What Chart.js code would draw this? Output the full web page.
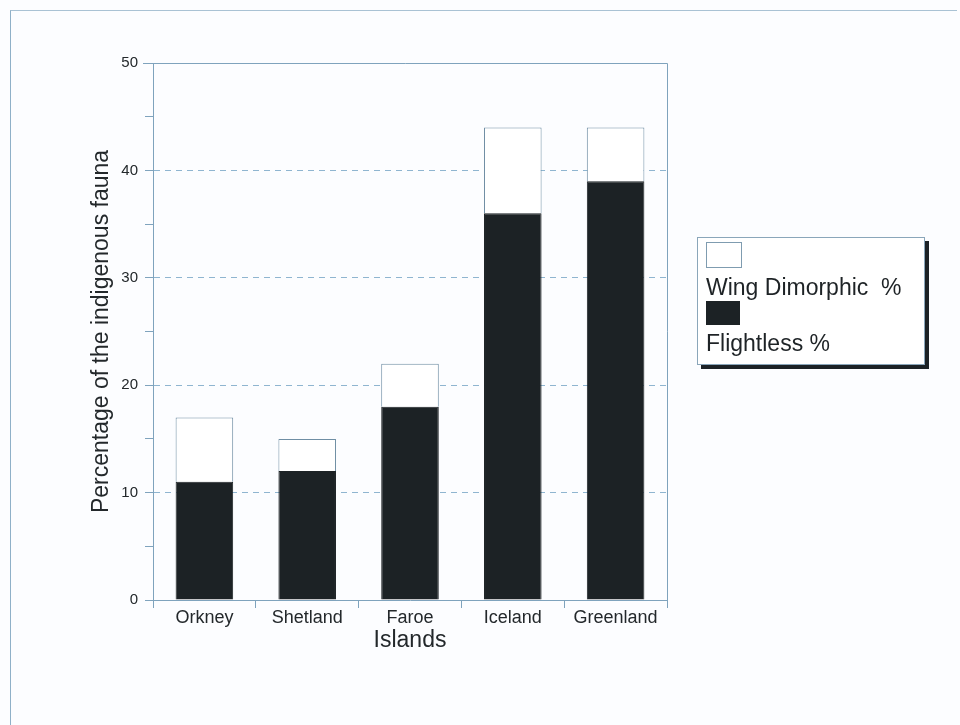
<!DOCTYPE html>
<html>
<head>
<meta charset="utf-8">
<script src="https://cdn.jsdelivr.net/npm/chart.js@4/dist/chart.umd.min.js"></script>
<style>
  body { margin: 0; background: #fcfdff; font-family: "Liberation Sans", Arial, sans-serif; }
  #wrap { position: relative; width: 960px; height: 725px; }
  #frame { position: absolute; left: 10px; top: 10px; width: 946px; height: 720px;
           border-left: 1px solid #8fb0c8; border-top: 1px solid #a9c2d4; }
  #legend { position: absolute; left: 697px; top: 237px; width: 226px; height: 126px;
            background: #fff; border: 1px solid #8aa6ba; box-shadow: 4px 4px 0 #1c2226; }
  .sw { position: absolute; left: 8px; width: 34px; height: 24px; }
  .lt { position: absolute; left: 8px; font-size: 23px; line-height: 26px; color: #1e2326; white-space: pre; }
</style>
</head>
<body>
<div id="wrap">
  <div id="frame"></div>
  <canvas id="barChart" width="960" height="725"></canvas>
  <div id="legend">
    <div class="sw" style="top:4px; background:#fff; border:1px solid #7f9cb0;"></div>
    <div class="lt" style="top:36px;">Wing Dimorphic  %</div>
    <div class="sw" style="top:63px; background:#1c2225;"></div>
    <div class="lt" style="top:92px;">Flightless %</div>
  </div>
</div>
<script>
var islands = ['Orkney', 'Shetland', 'Faroe', 'Iceland', 'Greenland'];
var flightless = [11, 12, 18, 36, 39];
var wingDimorphic = [6, 3, 4, 8, 5];
var yTicks = [0, 10, 20, 30, 40, 50];

var axisColor = '#7fa3bd';

// plot frame (top + right edges of the plot box)
var framePlugin = {
    id: 'plotFrame',
    afterDraw: function (chart) {
        var a = chart.chartArea;
        var ctx = chart.ctx;
        ctx.save();
        ctx.strokeStyle = axisColor;
        ctx.lineWidth = 1;
        ctx.beginPath();
        ctx.moveTo(a.left - 10, a.top + 0.5);
        ctx.lineTo(a.right + 0.5, a.top + 0.5);
        ctx.lineTo(a.right + 0.5, a.bottom);
        ctx.stroke();
        ctx.restore();
    }
};

var barChart = document.getElementById('barChart').getContext('2d');

var barChartObj = new Chart(barChart, {
    type: 'bar',
    data: {
        labels: islands,
        datasets: [{
            label: 'Flightless %',
            data: flightless,
            backgroundColor: '#1c2225',
            borderColor: '#1c2225',
            borderWidth: 1,
            barPercentage: 0.56,
            categoryPercentage: 1
        }, {
            label: 'Wing Dimorphic  %',
            data: wingDimorphic,
            backgroundColor: '#ffffff',
            borderColor: '#6f8ea4',
            borderWidth: 1,
            barPercentage: 0.56,
            categoryPercentage: 1
        }]
    },
    plugins: [framePlugin],
    options: {
        responsive: false,
        animation: false,
        layout: {
            padding: { left: 73, top: 63, right: 293, bottom: 65 }
        },
        plugins: {
            legend: { display: false },
            tooltip: { enabled: false }
        },
        scales: {
            x: {
                stacked: true,
                afterFit: function (s) { s.height = 60; },
                grid: {
                    offset: true,
                    drawOnChartArea: false,
                    color: axisColor,
                    tickLength: 8
                },
                border: { color: axisColor },
                ticks: {
                    color: '#23282b',
                    font: { family: 'Liberation Sans', size: 18 },
                    padding: -1
                },
                title: {
                    display: true,
                    text: 'Islands',
                    color: '#23282b',
                    font: { family: 'Liberation Sans', size: 23 },
                    padding: { top: 0, bottom: 6 }
                }
            },
            y: {
                stacked: true,
                min: 0,
                max: 50,
                afterFit: function (s) { s.width = 80; },
                ticks: {
                    stepSize: 5,
                    color: '#23282b',
                    font: { family: 'Liberation Sans', size: 15 },
                    padding: 7,
                    callback: function (v) { return yTicks.indexOf(v) >= 0 ? v : ''; }
                },
                grid: {
                    color: function (c) {
                        var v = c.tick ? c.tick.value : 0;
                        return (v % 10 === 0 && v > 0 && v < 50) ? '#8fb5d0' : 'rgba(0,0,0,0)';
                    },
                    tickColor: axisColor,
                    tickLength: 8
                },
                border: { color: axisColor, dash: [6, 5] },
                title: {
                    display: true,
                    text: 'Percentage of the indigenous fauna',
                    color: '#23282b',
                    font: { family: 'Liberation Sans', size: 23 },
                    padding: { top: 15, bottom: 0 }
                }
            }
        }
    }
});
</script>
</body>
</html>
